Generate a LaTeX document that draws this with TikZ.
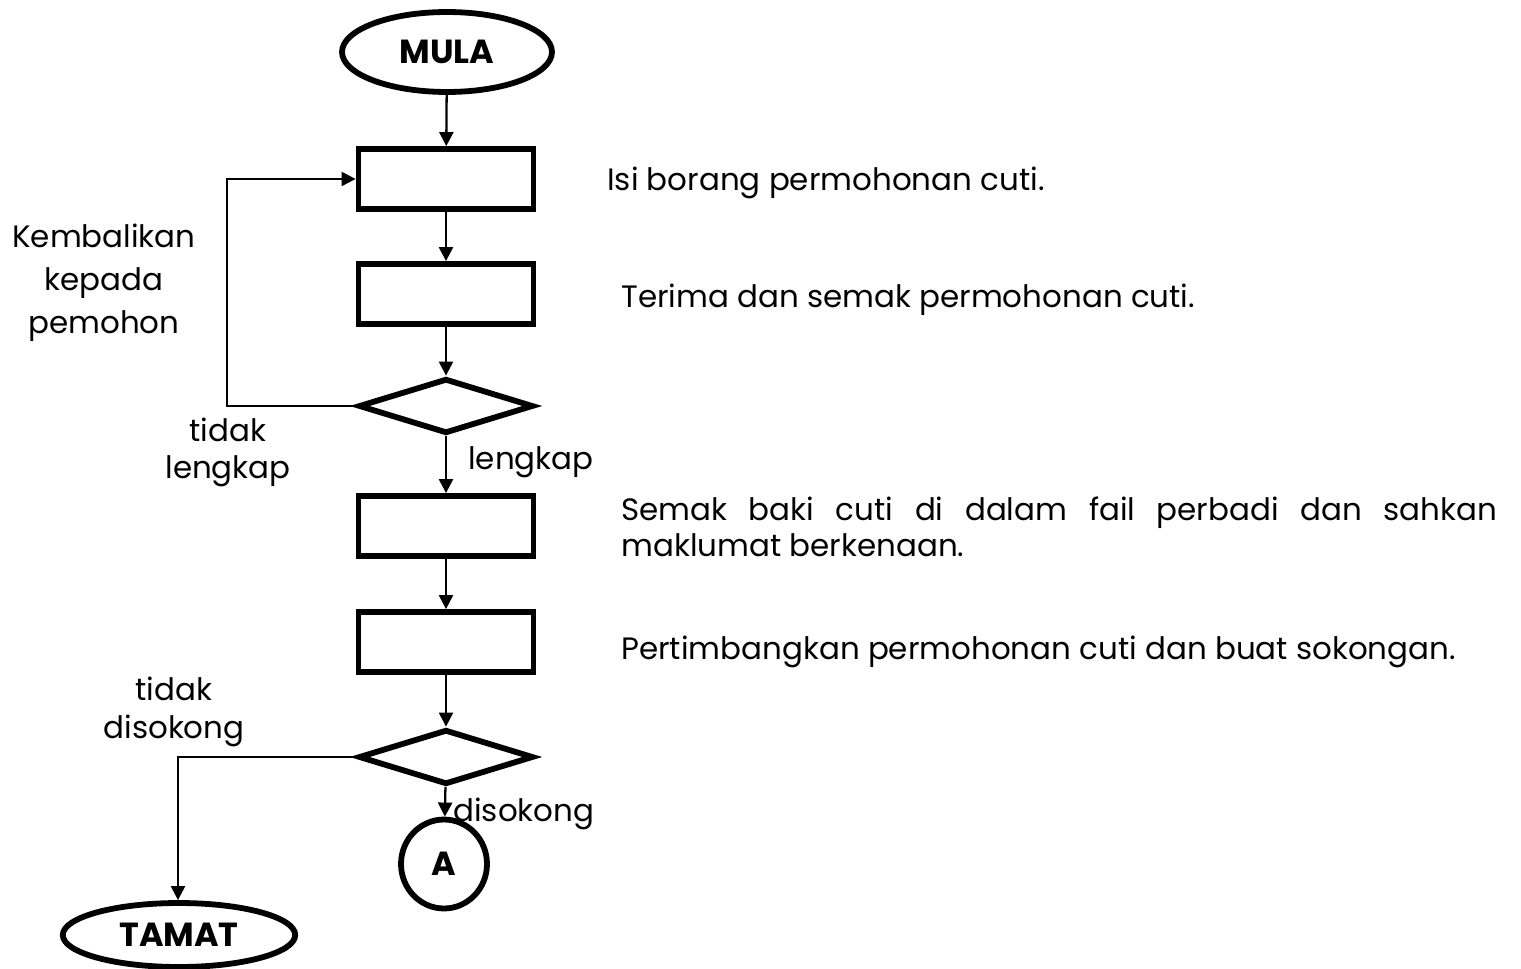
\documentclass[tikz,border=0pt]{standalone}
\usepackage{fontspec}
\setmainfont{Poppins}
\usepackage{tikz}
\usetikzlibrary{shapes.geometric, arrows.meta, positioning}

\begin{document}
\begin{tikzpicture}[x=0.02cm, y=-0.02cm,
        terminal/.style={ellipse, draw, line width=3.3pt, minimum width=4.2cm, minimum height=1.6cm, inner sep=0pt, font=\fontsize{19}{21}\selectfont\bfseries},
        process/.style={rectangle, draw, line width=3.3pt, minimum width=3.5cm, minimum height=1.2cm, inner sep=0pt},
        decision/.style={diamond, draw, line width=3.3pt, minimum width=3.5cm, minimum height=1.1cm, aspect=3.2, inner sep=0pt},
        connector/.style={ellipse, draw, line width=3.3pt, inner sep=0pt, font=\fontsize{19}{21}\selectfont\bfseries},
        note/.style={inner sep=0pt, font=\fontsize{17.6}{20}\selectfont},
        line/.style={draw, line width=1.3pt, -{Triangle[length=8pt, width=8pt]}}]

    \useasboundingbox (0,0) rectangle (1521,969);

    % aliran utama
    \node [terminal] (mula) at (447,52) {MULA};
    \node [process] (isi) at (446,179) {};
    \node [process] (terima) at (446,294) {};
    \node [decision] (lengkap) at (446,406) {};
    \node [process] (baki) at (446,526) {};
    \node [process] (timbang) at (446,642) {};
    \node [decision] (sokong) at (446,757) {};
    \node [connector, minimum width=1.72cm, minimum height=1.78cm] (sambung) at (444,864) {A};
    \node [terminal, minimum width=4.65cm, minimum height=1.28cm] (tamat) at (179,935) {TAMAT};

    \coordinate (kiri1) at (227,406);
    \coordinate (kiri2) at (178,757);

    \path [line] (mula) -- (isi);
    \path [line] (isi) -- (terima);
    \path [line] (terima) -- (lengkap);
    \path [line] (lengkap) -- (baki);
    \path [line] (baki) -- (timbang);
    \path [line] (timbang) -- (sokong);
    \path [line] (sokong) -- (sambung);
    \path [line] (lengkap.west) -- (kiri1) |- (isi.west);
    \path [line] (sokong.west) -- (kiri2) -- (tamat.north -| kiri2);

    % label cabang
    \node [note, align=center, font=\fontsize{17.6}{24.5}\selectfont] (kembali) at (104,283) {Kembalikan\\kepada\\pemohon};
    \node [note, align=center, font=\fontsize{17.6}{21}\selectfont] (tidaklengkap) at (228,452) {tidak\\lengkap};
    \node [note, anchor=west] (ya1) at (468,462) {lengkap};
    \node [note, align=center, font=\fontsize{17.6}{21.5}\selectfont] (tidaksokong) at (174,712) {tidak\\disokong};
    \node [note, anchor=west] (ya2) at (453,814) {disokong};

    % keterangan langkah
    \node [note, anchor=west] (t1) at (607,183) {Isi borang permohonan cuti.};
    \node [note, anchor=west] (t2) at (621,300) {Terima dan semak permohonan cuti.};
    \node [note, anchor=north west, text width=17.52cm, align=justify] (t3) at (621,497) {Semak baki cuti di dalam fail perbadi dan sahkan\linebreak maklumat berkenaan.};
    \node [note, anchor=west] (t4) at (621,652) {Pertimbangkan permohonan cuti dan buat sokongan.};
\end{tikzpicture}
\end{document}
